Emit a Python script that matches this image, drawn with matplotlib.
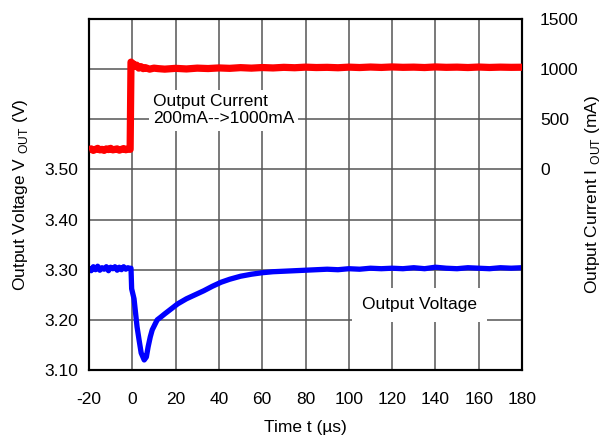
import matplotlib
matplotlib.use("Agg")
import matplotlib.pyplot as plt

plt.rcParams['font.family'] = ['Liberation Sans', 'DejaVu Sans']
plt.rcParams['mathtext.fontset'] = 'custom'
plt.rcParams['mathtext.rm'] = 'Liberation Sans'

# ---- data ----
v_time = [-20, -19, -18, -17, -16, -15, -14, -13, -12, -11, -10, -9, -8, -7, -6, -5, -4, -3, -2, -1,
          -0.6, -0.3, 0.8, 2.2, 3.2, 4.1, 5.5, 6.5, 7.3, 8.3, 9.2, 11.5, 13, 15, 18, 21, 25, 29, 33, 37,
          41, 45, 50, 55, 60, 65, 70, 75, 80, 85, 90, 95, 100, 105, 110, 115, 120, 125, 130, 135,
          140, 145, 150, 155, 160, 165, 170, 175, 180]
v_out = [3.305, 3.298, 3.306, 3.300, 3.307, 3.299, 3.304, 3.301, 3.306, 3.298, 3.305, 3.302, 3.306,
         3.299, 3.305, 3.300, 3.306, 3.301, 3.304, 3.302,
         3.303, 3.262, 3.242, 3.186, 3.158, 3.134, 3.120, 3.126, 3.146, 3.166, 3.180, 3.200, 3.205,
         3.212, 3.222, 3.232, 3.242, 3.250, 3.258, 3.267, 3.275, 3.281, 3.287, 3.291, 3.294,
         3.296, 3.297, 3.298, 3.299, 3.300, 3.301, 3.300, 3.302, 3.301, 3.303, 3.302, 3.303,
         3.302, 3.304, 3.302, 3.305, 3.303, 3.302, 3.304, 3.303, 3.302, 3.304, 3.303, 3.304]

i_time = [-20, -19, -18, -17, -16, -15, -14, -13, -12, -11, -10, -9, -8, -7, -6, -5, -4, -3, -2, -1.0,
          -0.6, 0.3, 1.2, 2, 3, 4, 5, 6, 8, 10, 12, 15, 20, 25, 30, 35, 40, 45, 50, 55, 60,
          65, 70, 75, 80, 85, 90, 95, 100, 105, 110, 115, 120, 125, 130, 135, 140, 145, 150, 155,
          160, 165, 170, 175, 180]
i_out = [195, 205, 190, 200, 210, 195, 200, 190, 205, 198, 210, 195, 200, 205, 192, 200, 208, 196, 203, 200,
         1070, 1055, 1030, 1040, 1010, 1025, 1005, 1015, 1000, 1010, 1005, 1000, 1008, 1002,
         1010, 1006, 1012, 1008, 1015, 1010, 1016, 1012, 1018, 1014, 1020, 1016, 1018, 1014, 1020,
         1016, 1021, 1017, 1022, 1018, 1020, 1016, 1022, 1018, 1020, 1016, 1021, 1017, 1020, 1018, 1019]

x_ticks = [-20, 0, 20, 40, 60, 80, 100, 120, 140, 160, 180]
v_ticks = [3.10, 3.20, 3.30, 3.40, 3.50, 3.60, 3.70, 3.80]
v_tick_labels = ['3.10', '3.20', '3.30', '3.40', '3.50', '', '', '']
i_ticks = [0, 500, 1000, 1500]
i_tick_labels = ['0', '500', '1000', '1500']

# ---- figure ----
fig = plt.figure(figsize=(6.05, 4.38), dpi=100)
ax = fig.add_axes([89/605, 1-370/438, (522-89)/605, (370-19)/438])
ax2 = ax.twinx()

ax.set_xlim(-20, 180)
ax.set_ylim(3.10, 3.80)
ax2.set_ylim(-2000, 1500)

ax.set_xticks(x_ticks)
ax.set_xticklabels([str(t) for t in x_ticks])
ax.set_yticks(v_ticks)
ax.set_yticklabels(v_tick_labels)
ax2.set_yticks(i_ticks)
ax2.set_yticklabels(i_tick_labels)

ax.grid(True, color='#555555', linewidth=1.1)
ax.set_axisbelow(True)

ax.tick_params(axis='both', length=0, labelsize=12.5)
ax.tick_params(axis='x', pad=16)
ax.tick_params(axis='y', pad=8)
ax2.tick_params(axis='y', length=0, labelsize=12.5, pad=13)

for a in (ax, ax2):
    for s in a.spines.values():
        s.set_linewidth(1.5)
        s.set_color('black')

ax.plot(v_time, v_out, color='#0000ff', linewidth=3.8, solid_joinstyle='round',
        solid_capstyle='butt', zorder=3)
ax2.plot(i_time, i_out, color='#ff0000', linewidth=5.2, solid_joinstyle='round',
         solid_capstyle='butt', zorder=3)

ax.set_xlabel('Time t (µs)', fontsize=12.5, labelpad=9)
ax.set_ylabel('Output Voltage V $_{\\mathregular{OUT}}$ (V)', fontsize=12.5, labelpad=10)
ax2.set_ylabel('Output Current I $_{\\mathregular{OUT}}$ (mA)', fontsize=12.5, labelpad=3)

ax.text(9.5, 3.618, 'Output Current\n200mA-->1000mA', fontsize=12.5, ha='left', va='center',
        linespacing=1.2, zorder=4,
        bbox=dict(facecolor='white', edgecolor='none', pad=3))
ax.text(106, 3.23, 'Output Voltage', fontsize=12.5, ha='left', va='center', zorder=4,
        bbox=dict(facecolor='white', edgecolor='none', pad=7))

fig.savefig('out.png', dpi=100)
